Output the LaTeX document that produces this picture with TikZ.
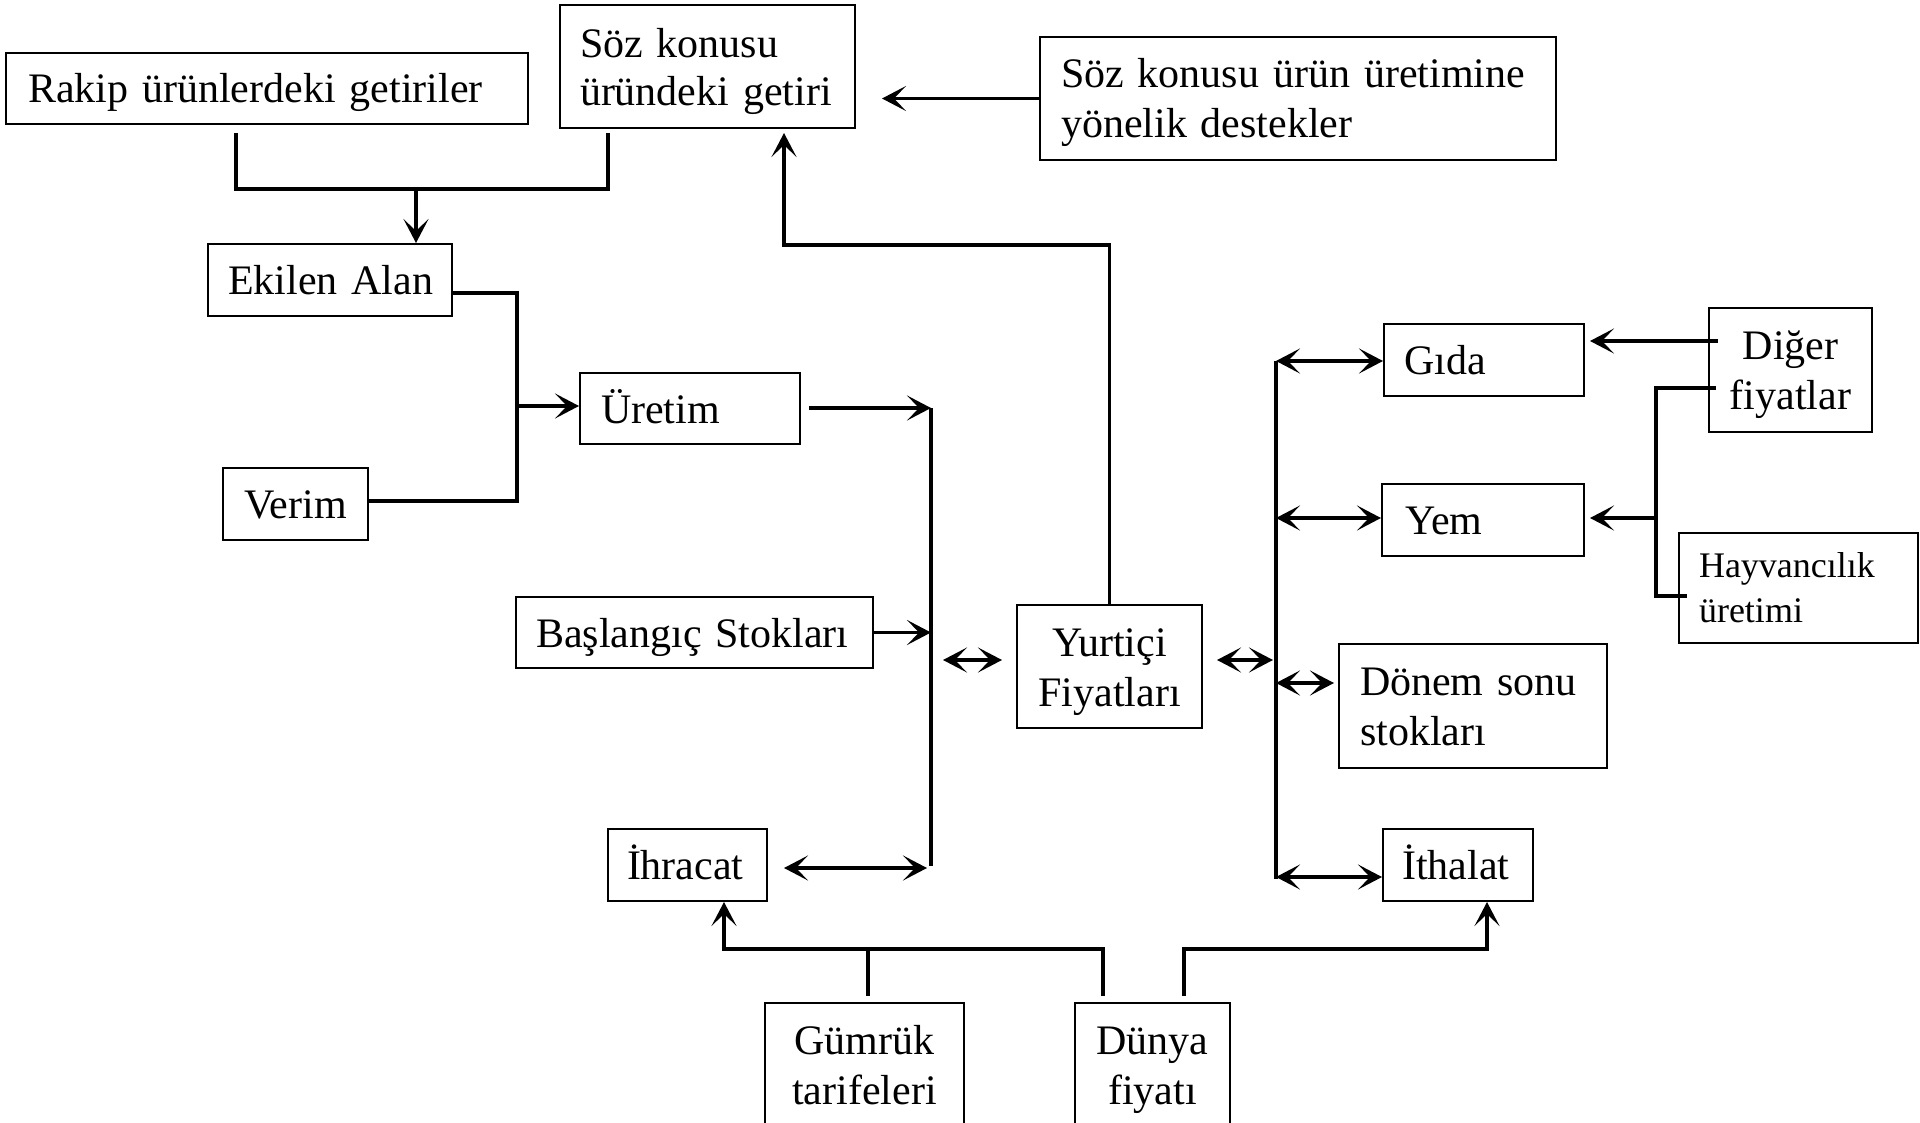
\documentclass[tikz,border=0pt]{standalone}
\usepackage{fontspec}
\setmainfont{Liberation Serif}
\usetikzlibrary{arrows.meta}
\begin{document}
\begin{tikzpicture}[x=1pt,y=-1pt,
  arr/.tip={Stealth[length=24pt,width=25pt,inset=12pt]},
  box/.style={draw, line width=2pt, inner xsep=0pt, inner ysep=0pt,
    font=\fontsize{42pt}{50pt}\selectfont, text height=29pt, text depth=0pt},
  lbox/.style={box, align=left},
  cbox/.style={box, align=center},
  twoline/.style={text depth=50pt},
  conn/.style={line width=3.3pt},
  ]
\useasboundingbox (0,0) rectangle (1920,1123);
\clip (0,0) rectangle (1920,1123);

% boxes
\node[lbox, minimum width=522pt, minimum height=71pt, text width=478pt] (rakip) at (267,88.5) {Rakip~ürünlerdeki~getiriler};
\node[lbox, minimum width=295pt, minimum height=123pt, text width=255pt,
      font=\fontsize{42pt}{48pt}\selectfont, text depth=46pt] (soz) at (707.5,66.5) {Söz~konusu\\üründeki~getiri};
\node[lbox, twoline, minimum width=516pt, minimum height=123pt, text width=474pt] (destek) at (1298,98.5) {Söz~konusu~ürün~üretimine\\yönelik~destekler};
\node[lbox, minimum width=244pt, minimum height=72pt, text width=204pt] (ekilen) at (330,280) {Ekilen~Alan};
\node[lbox, minimum width=220pt, minimum height=71pt, text width=178pt] (uretim) at (690,408.5) {Üretim};
\node[lbox, minimum width=145pt, minimum height=72pt, text width=103pt] (verim) at (295.5,504) {Verim};
\node[lbox, minimum width=357pt, minimum height=71pt, text width=317pt] (basl) at (694.5,632.5) {Başlangıç~Stokları};
\node[cbox, twoline, minimum width=185pt, minimum height=123pt, text width=175pt] (yurt) at (1109.5,666.5) {Yurtiçi\\Fiyatları};
\node[lbox, minimum width=200pt, minimum height=72pt, text width=160pt] (gida) at (1484,360) {Gıda};
\node[lbox, minimum width=202pt, minimum height=72pt, text width=156pt] (yem) at (1483,520) {Yem};
\node[lbox, twoline, minimum width=268pt, minimum height=124pt, text width=226pt] (donem) at (1473,706) {Dönem~sonu\\stokları};
\node[cbox, twoline, minimum width=163pt, minimum height=124pt, text width=153pt] (diger) at (1790.5,370) {Diğer\\fiyatlar};
\node[lbox, minimum width=239pt, minimum height=110pt, text width=199pt,
      font=\fontsize{36pt}{45pt}\selectfont, text height=25pt, text depth=47pt] (hayv) at (1798.5,588) {Hayvancılık\\üretimi};
\node[lbox, minimum width=159pt, minimum height=72pt, text width=121pt] (ihracat) at (687.5,865) {İhracat};
\node[lbox, minimum width=150pt, minimum height=72pt, text width=112pt] (ithalat) at (1458,865) {İthalat};
\node[cbox, anchor=north, minimum width=199pt, text width=189pt, inner ysep=22pt, text depth=80pt] (gumruk) at (864.5,1002) {Gümrük\\tarifeleri};
\node[cbox, anchor=north, minimum width=155pt, text width=145pt, inner ysep=22pt, text depth=80pt] (dunya) at (1152.5,1002) {Dünya\\fiyatı};

% coordinates
\coordinate (sozR) at (882,98.5);
\coordinate (ra) at (236,133);
\coordinate (rb) at (236,189);
\coordinate (sa) at (608,133);
\coordinate (sb) at (608,189);
\coordinate (mid) at (416,189);
\coordinate (e1) at (452,293);
\coordinate (e2) at (517,293);
\coordinate (e3) at (517,501);
\coordinate (e4) at (517,406);
\coordinate (u1) at (809,408);
\coordinate (t1) at (931,408);
\coordinate (t2) at (931,866);
\coordinate (ih1) at (784,868);
\coordinate (ih2) at (927,868);
\coordinate (yl1) at (943,660);
\coordinate (yl2) at (1002,660);
\coordinate (yr1) at (1217,660);
\coordinate (yr2) at (1273,660);
\coordinate (y1) at (1110,245);
\coordinate (y2) at (784,245);
\coordinate (y3) at (784,133);
\coordinate (r1) at (1276,361);
\coordinate (r2) at (1276,879);
\coordinate (ry) at (1276,518);
\coordinate (rd1) at (1276,683);
\coordinate (rd2) at (1334,683);
\coordinate (ri) at (1276,877);
\coordinate (d1) at (1718,341);
\coordinate (d2) at (1590,341);
\coordinate (d3) at (1716,388);
\coordinate (d4) at (1656,388);
\coordinate (d5) at (1656,596);
\coordinate (d6) at (1687,596);
\coordinate (d7) at (1656,518);
\coordinate (d8) at (1590,518);
\coordinate (g1) at (868,996);
\coordinate (g2) at (868,949);
\coordinate (w1) at (1103,996);
\coordinate (w2) at (1103,949);
\coordinate (w3) at (724,949);
\coordinate (w4) at (1184,996);
\coordinate (w5) at (1184,949);
\coordinate (w6) at (1487,949);

% connectors
\draw[conn,-arr] (destek.west |- sozR) -- (sozR);
\draw[conn] (ra) -- (rb) -- (sb) -- (sa);
\draw[conn,-arr] (mid) -- (mid |- ekilen.north);
\draw[conn] (ekilen.east |- e1) -- (e2) -- (e3) -- (verim.east |- e3);
\draw[conn,-arr] (e4) -- (e4 -| uretim.west);
\draw[conn] (t1) -- (t2);
\draw[conn,-arr] (u1) -- (t1);
\draw[conn,-arr] (basl.east) -- (basl.east -| t1);
\draw[conn,arr-arr] (ih1) -- (ih2);
\draw[conn,arr-arr] (yl1) -- (yl2);
\draw[conn,-arr] (yurt.north) -- (yurt.north |- y1) -- (y2) -- (y3);
\draw[conn] (r1) -- (r2);
\draw[conn,arr-arr] (yr1) -- (yr2);
\draw[conn,arr-arr] (r1) -- (r1 -| gida.west);
\draw[conn,arr-arr] (ry) -- (ry -| yem.west);
\draw[conn,arr-arr] (rd1) -- (rd2);
\draw[conn,arr-arr] (ri) -- (ri -| ithalat.west);
\draw[conn,-arr] (d1) -- (d2);
\draw[conn] (d3) -- (d4) -- (d5) -- (d6);
\draw[conn,-arr] (d7) -- (d8);
\draw[conn] (g1) -- (g2);
\draw[conn,-arr] (w1) -- (w2) -- (w3) -- (w3 |- ihracat.south);
\draw[conn,-arr] (w4) -- (w5) -- (w6) -- (w6 |- ithalat.south);
\end{tikzpicture}
\end{document}
